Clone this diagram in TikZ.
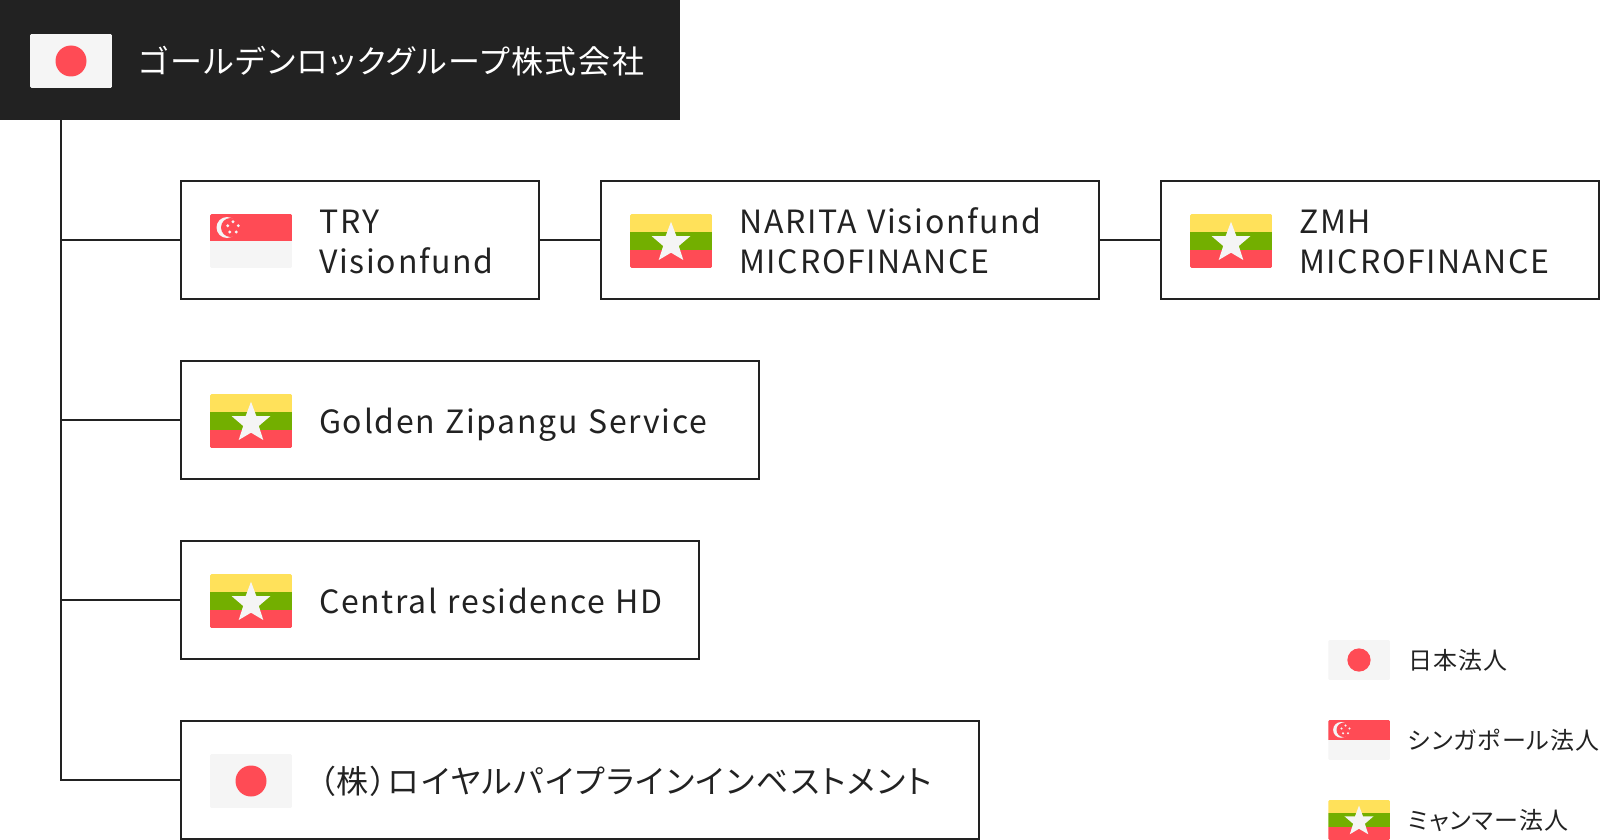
\documentclass[tikz,border=0pt]{standalone}
\usepackage{fontspec}
\setmainfont{Noto Sans CJK JP}
\newfontfamily\corpfont[LetterSpace=5.3,WordSpace=1.15,RawFeature=+palt]{Noto Sans CJK JP}
\newfontfamily\legendfont[LetterSpace=4.6,RawFeature=+palt]{Noto Sans CJK JP}
\definecolor{darkbox}{HTML}{222222}
\definecolor{flagred}{HTML}{FF4B55}
\definecolor{flagwhite}{HTML}{F5F5F5}
\definecolor{flagyellow}{HTML}{FFE15A}
\definecolor{flaggreen}{HTML}{73AF00}
\tikzset{
	corpbox/.style={draw=darkbox,line width=2pt,fill=white,minimum height=118pt,inner sep=0pt,anchor=west},
	corplabel/.style={text=darkbox,align=left,inner sep=0pt,font=\corpfont\fontsize{32}{40}\selectfont},
	legendlabel/.style={text=darkbox,anchor=base west,inner sep=0pt,font=\legendfont\fontsize{24}{30}\selectfont},
	connector/.style={draw=darkbox,line width=2pt},
	jpflag/.pic={
		\clip[rounded corners=1.5pt] (-41,-27) rectangle (41,27);
		\fill[flagwhite] (-41,-27) rectangle (41,27);
		\fill[flagred] (0,0) circle (15.5);
	},
	sgflag/.pic={
		\clip[rounded corners=1.5pt] (-41,-27) rectangle (41,27);
		\fill[flagwhite] (-41,-27) rectangle (41,27);
		\fill[flagred] (-41,-27) rectangle (41,0);
		\fill[flagwhite] (-24,-13.5) circle (10.5);
		\fill[flagred] (-20.5,-13.5) circle (9.5);
		\foreach \x/\y in {-18/-19.3,-23.3/-15.3,-12.7/-15.3,-21.3/-9,-14.7/-9}
			\fill[flagwhite] (\x,\y) circle (1.6);
	},
	mmflag/.pic={
		\clip[rounded corners=1.5pt] (-41,-27) rectangle (41,27);
		\fill[flagyellow] (-41,-27) rectangle (41,-9);
		\fill[flaggreen] (-41,-9) rectangle (41,9);
		\fill[flagred] (-41,9) rectangle (41,27);
		\fill[flagwhite] (0,-19.3)
			\foreach \x/\y in {5.3/-5,19.5/-5,7.8/5,12.3/19,0/11.7,-12.3/19,-7.8/5,-19.5/-5,-5.3/-5} {-- (\x,\y)} -- cycle;
	},
}
\begin{document}
\begin{tikzpicture}[x=1pt,y=-1pt]
\useasboundingbox (0,0) rectangle (1600,840);

\node[fill=darkbox,minimum width=680pt,minimum height=120pt,inner sep=0pt,anchor=north west] (root) at (0,0) {};
\pic at (71,61) {jpflag};
\node[corplabel,anchor=base west,text=white] (rootText) at (139,74) {ゴールデンロックグループ株式会社};

\foreach \n/\x/\w/\y in {tryBox/179.5/358.5/240.25,naritaBox/599.5/498.5/240.25,zmhBox/1159.5/438.5/240.25,goldenBox/179.5/578.5/420.25,centralBox/179.5/518.5/600.25,royalBox/179.5/798.5/780.25}
	\node[corpbox,minimum width=\w pt] (\n) at (\x,\y) {};

\coordinate (trunk) at (root.south -| 61,0);
\draw[connector] (trunk) -- (royalBox.west -| trunk) -- (royalBox.west);
\foreach \n in {tryBox,goldenBox,centralBox}
	\draw[connector] (\n.west -| trunk) -- (\n.west);
\draw[connector] (tryBox) -- (naritaBox);
\draw[connector] (naritaBox) -- (zmhBox);

\pic at (251,241) {sgflag};
\pic at (671,241) {mmflag};
\pic at (1231,241) {mmflag};
\pic at (251,421) {mmflag};
\pic at (251,601) {mmflag};
\pic at (251,781) {jpflag};

\node[corplabel,anchor=west] (tryText) at (319,242) {TRY\\Visionfund};
\node[corplabel,anchor=west] (naritaText) at (739,241) {NARITA Visionfund\\MICROFINANCE};
\node[corplabel,anchor=west] (zmhText) at (1299,242) {ZMH\\MICROFINANCE};
\node[corplabel,anchor=base west] (goldenText) at (319,433) {Golden Zipangu Service};
\node[corplabel,anchor=base west] (centralText) at (319,613) {Central residence HD};
\node[corplabel,anchor=base west] (royalText) at (319,793) {（株）ロイヤルパイプラインインベストメント};

\pic[scale=0.75] at (1359,660) {jpflag};
\pic[scale=0.75] at (1359,740) {sgflag};
\pic[scale=0.75] at (1359,820) {mmflag};

\node[legendlabel] (legendJp) at (1408,669) {日本法人};
\node[legendlabel] (legendSg) at (1408,749) {シンガポール法人};
\node[legendlabel] (legendMm) at (1408,829) {ミャンマー法人};
\end{tikzpicture}
\end{document}
